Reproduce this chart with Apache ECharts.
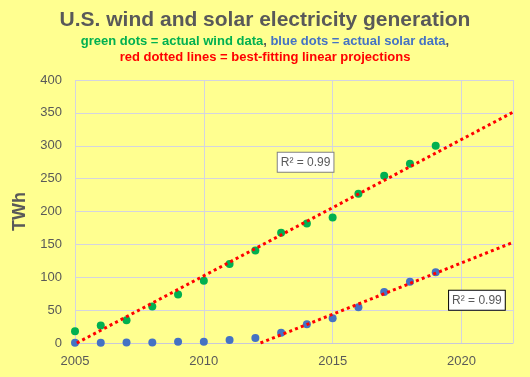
<!DOCTYPE html>
<html>
<head>
<meta charset="utf-8">
<script src="https://cdn.jsdelivr.net/npm/echarts@6/dist/echarts.min.js"></script>
<style>
  html, body { margin: 0; padding: 0; background: #ffff90; }
  #chart { width: 530px; height: 377px; }
</style>
</head>
<body>
<div id="chart"></div>
<script>
// values
const years = [2005, 2006, 2007, 2008, 2009, 2010, 2011, 2012, 2013, 2014, 2015, 2016, 2017, 2018, 2019];
const wind = [17.8, 26.6, 34.5, 55.4, 73.9, 94.7, 120.2, 140.8, 167.8, 181.7, 190.7, 227, 254.3, 272.7, 300];
const solar = [0.5, 0.5, 0.6, 0.9, 1.8, 2, 4.5, 7.5, 15.5, 28.5, 37.5, 54.5, 77.5, 93, 107.5];
// best-fitting line end points (as drawn)
const windFit = [[2005.07, 0], [2022, 351]];
const solarFit = [[2012.2, 0], [2022, 153]];
const windR2 = 'R² = 0.99';
const solarR2 = 'R² = 0.99';
const windR2At = [2013.95, 275];
const solarR2At = [2020.6, 65];

const gray = '#595959';
const chart = echarts.init(document.getElementById('chart'));

const option = {
  backgroundColor: '#ffff90',
  animation: false,
  title: {
    text: 'U.S. wind and solar electricity generation',
    subtext: '{g|green dots = actual wind data}{k|, }{b|blue dots = actual solar data}{k|,}\n{r|red dotted lines = best-fitting linear projections}',
    left: 'center',
    top: 5,
    itemGap: 2,
    textStyle: { color: gray, fontSize: 21, fontWeight: 'bold', fontFamily: 'Liberation Sans' },
    subtextStyle: {
      fontFamily: 'Liberation Sans',
      lineHeight: 16,
      rich: {
        g: { color: '#00b050', fontSize: 13, fontWeight: 'bold', fontFamily: 'Liberation Sans' },
        b: { color: '#4472c4', fontSize: 13, fontWeight: 'bold', fontFamily: 'Liberation Sans' },
        k: { color: gray, fontSize: 13, fontWeight: 'bold', fontFamily: 'Liberation Sans' },
        r: { color: '#ff0000', fontSize: 13, fontWeight: 'bold', fontFamily: 'Liberation Sans' }
      }
    }
  },
  grid: { left: 75, right: 17, top: 80, bottom: 34 },
  xAxis: {
    type: 'value',
    min: 2005,
    max: 2022,
    interval: 5,
    axisLine: { show: true, lineStyle: { color: '#c8c8d8' } },
    axisTick: { show: false },
    splitLine: { show: true, lineStyle: { color: '#d4d4e0' } },
    axisLabel: {
      color: gray, fontSize: 13, margin: 12, fontFamily: 'Liberation Sans',
      formatter: function (v) { return v % 5 === 0 ? String(v) : ''; }
    }
  },
  yAxis: {
    type: 'value',
    min: 0,
    max: 400,
    interval: 50,
    name: 'TWh',
    nameLocation: 'middle',
    nameGap: 42,
    nameTextStyle: { color: gray, fontSize: 18, fontWeight: 'bold', fontFamily: 'Liberation Sans' },
    axisLine: { show: false },
    axisTick: { show: false },
    splitLine: { show: true, lineStyle: { color: '#d4d4e0' } },
    axisLabel: { color: gray, fontSize: 13, margin: 13, fontFamily: 'Liberation Sans' }
  },
  series: [
    {
      name: 'wind',
      type: 'scatter',
      symbolSize: 8,
      itemStyle: { color: '#00b050', opacity: 1 },
      data: years.map((y, i) => [y, wind[i]]),
      z: 2
    },
    {
      name: 'solar',
      type: 'scatter',
      symbolSize: 8,
      itemStyle: { color: '#4472c4', opacity: 1 },
      data: years.map((y, i) => [y, solar[i]]),
      z: 2
    },
    {
      name: 'wind fit',
      type: 'line',
      showSymbol: false,
      symbol: 'none',
      lineStyle: { color: '#ff0000', width: 3, type: [3, 3.2], cap: 'butt' },
      data: windFit,
      z: 3,
      markPoint: {
        symbol: 'rect',
        symbolSize: 0,
        label: {
          show: true,
          formatter: windR2,
          color: gray,
          fontSize: 12,
          fontFamily: 'Liberation Sans',
          backgroundColor: '#ffffff',
          borderColor: '#808080',
          borderWidth: 1,
          padding: [4, 3, 3, 3],
          position: 'inside'
        },
        data: [{ coord: windR2At }]
      }
    },
    {
      name: 'solar fit',
      type: 'line',
      showSymbol: false,
      symbol: 'none',
      lineStyle: { color: '#ff0000', width: 3, type: [3, 3.2], cap: 'butt' },
      data: solarFit,
      z: 3,
      markPoint: {
        symbol: 'rect',
        symbolSize: 0,
        label: {
          show: true,
          formatter: solarR2,
          color: gray,
          fontSize: 12,
          fontFamily: 'Liberation Sans',
          backgroundColor: '#ffffff',
          borderColor: '#000000',
          borderWidth: 1,
          padding: [4, 3, 3, 3],
          position: 'inside'
        },
        data: [{ coord: solarR2At }]
      }
    }
  ]
};

chart.setOption(option);
</script>
</body>
</html>
